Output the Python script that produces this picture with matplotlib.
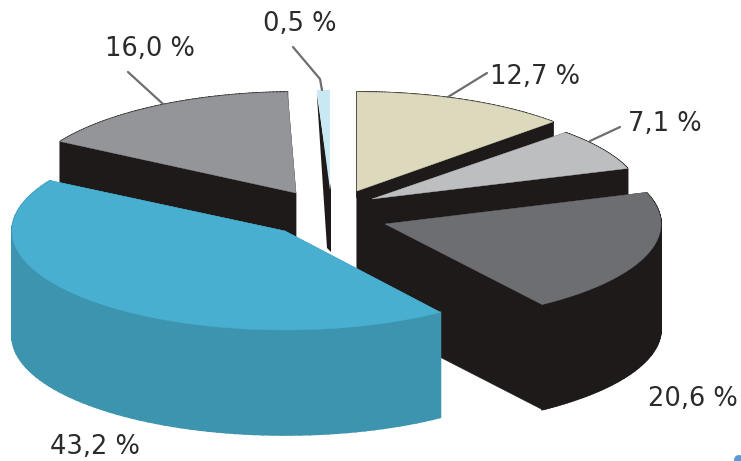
import numpy as np
import matplotlib
matplotlib.use("Agg")
import matplotlib.pyplot as plt
from matplotlib.patches import Polygon, Circle

# data
labels = ["12,7 %", "7,1 %", "20,6 %", "43,2 %", "16,0 %", "0,5 %"]
values = [12.7, 7.1, 20.6, 43.2, 16.0, 0.5]

# styles / layout (pixel space)
tops = ["#dcd9bd", "#bcbec0", "#6d6e71", "#48afd1", "#939598", "#c8e8f3"]
walls = ["#1f1a1a", "#1f1a1a", "#1f1a1a", "#3d94ae", "#1f1a1a", "#1f1a1a"]
apex_x = [357, 372, 385, 285, 296, 330]
apex_y = [191, 199, 224, 231, 193, 190]
rad_a = [274, 270, 276, 273, 274, 420]
rad_b = [99, 95, 98, 99, 101, 100]
depth = 105
label_xy = [(535, 77), (665, 124), (693, 399), (95, 447), (150, 49), (300, 24)]
leaders = [[(487, 73), (448, 97)], [(620, 127), (590, 141)], None, None,
           [(128, 72), (163, 104)], [(293, 47), (320, 79), (322, 90)]]
paint_order = [0, 1, 2, 5, 4, 3]

fig = plt.figure(figsize=(7.41, 4.61), dpi=100)
ax = fig.add_axes([0, 0, 1, 1])
ax.set_xlim(0, 741)
ax.set_ylim(461, 0)
ax.axis("off")

edges = np.concatenate([[0], np.cumsum(values)]) / sum(values) * 2 * np.pi

for i in paint_order:
    th = np.linspace(edges[i], edges[i + 1], 80)
    rim = np.column_stack([apex_x[i] + rad_a[i] * np.sin(th),
                           apex_y[i] - rad_b[i] * np.cos(th)])
    c = np.array([apex_x[i], apex_y[i]], float)
    d = np.array([0, depth], float)
    if i == 5:
        # the sliver shows only a tapering dark edge
        ax.add_patch(Polygon([rim[0] + [0, 4], c + [1, 0], c + [1, 62], c + [-3, 58]],
                             fc=walls[i], ec="none"))
        ax.add_patch(Polygon(np.vstack([c, rim]), fc=tops[i], ec="none"))
        continue
    # radial faces
    for p in (rim[0], rim[-1]):
        ax.add_patch(Polygon([c, p, p + d, c + d], fc=walls[i], ec=walls[i], lw=0.3))
    # outer face, swept segment by segment
    for p, q in zip(rim[:-1], rim[1:]):
        ax.add_patch(Polygon([p, q, q + d, p + d], fc=walls[i], ec=walls[i], lw=1.2))
    ax.add_patch(Polygon(np.vstack([c, rim]), fc=tops[i], ec=tops[i], lw=0.3))

for seg in leaders:
    if seg:
        xs, ys = zip(*seg)
        ax.plot(xs, ys, color="#6d6e71", lw=1.6, solid_capstyle="round")

for lab, (x, y) in zip(labels, label_xy):
    ax.text(x, y, lab, ha="center", va="center", fontsize=18.5,
            family="DejaVu Sans", color="#2b2b2b")

ax.add_patch(Circle((739, 460), 5, fc="#5b9bd5", ec="none"))
fig.savefig("out.png", dpi=100)
